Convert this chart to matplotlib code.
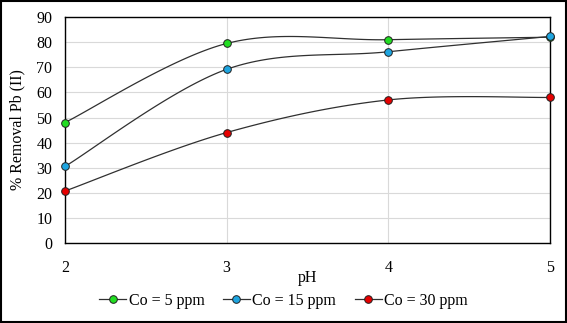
import numpy as np
import matplotlib
matplotlib.use("Agg")
import matplotlib.pyplot as plt

# data
ph = [2, 3, 4, 5]
co_5 = [48.0, 79.5, 81.0, 82.0]
co_15 = [30.5, 69.2, 76.2, 82.3]
co_30 = [20.7, 44.0, 57.0, 58.0]
labels = ["Co = 5 ppm", "Co = 15 ppm", "Co = 30 ppm"]
colors = ["#22dd22", "#1ea5e0", "#e60000"]


def excel_smooth(x, y, n=40):
    # bezier segments like Excel's "smoothed line"
    x = np.asarray(x, float)
    y = np.asarray(y, float)
    xs, ys = [], []
    for i in range(len(x) - 1):
        p0 = (x[max(i - 1, 0)], y[max(i - 1, 0)])
        p1 = (x[i], y[i])
        p2 = (x[i + 1], y[i + 1])
        p3 = (x[min(i + 2, len(x) - 1)], y[min(i + 2, len(x) - 1)])
        c1 = (p1[0] + (p2[0] - p0[0]) / 6, p1[1] + (p2[1] - p0[1]) / 6)
        c2 = (p2[0] - (p3[0] - p1[0]) / 6, p2[1] - (p3[1] - p1[1]) / 6)
        t = np.linspace(0, 1, n)
        b = [(1 - t) ** 3, 3 * (1 - t) ** 2 * t, 3 * (1 - t) * t ** 2, t ** 3]
        xs.append(b[0] * p1[0] + b[1] * c1[0] + b[2] * c2[0] + b[3] * p2[0])
        ys.append(b[0] * p1[1] + b[1] * c1[1] + b[2] * c2[1] + b[3] * p2[1])
    return np.concatenate(xs), np.concatenate(ys)


plt.rcParams["font.family"] = ["Liberation Serif", "DejaVu Serif"]
plt.rcParams["font.size"] = 11.5

fig = plt.figure(figsize=(5.67, 3.23), dpi=100)
ax = fig.add_axes([0.1146, 0.2477, 0.8554, 0.6993])

for y, c, lab in zip([co_5, co_15, co_30], colors, labels):
    sx, sy = excel_smooth(ph, y)
    ax.plot(sx, sy, color="#303030", lw=0.9, zorder=3)
    ax.plot(ph, y, "o", color=c, mec="#202020", mew=0.7, ms=5.5, zorder=4, clip_on=False)
    ax.plot([], [], "-o", color="#303030", mfc=c, mec="#202020", mew=0.7, ms=5.5, lw=0.9, label=lab)

ax.set_xlim(2, 5)
ax.set_ylim(0, 90)
ax.set_xticks(ph)
ax.set_yticks(range(0, 91, 10))
ax.grid(True, color="#d9d9d9", lw=0.8)
ax.set_axisbelow(True)
for s in ax.spines.values():
    s.set_color("black")
    s.set_linewidth(1.0)
ax.tick_params(length=0)
ax.tick_params(axis="y", pad=9)
ax.tick_params(axis="x", pad=12)
ax.set_xlabel("pH", labelpad=-4)
ax.set_ylabel("% Removal Pb (II)", labelpad=8)

fig.legend(loc="lower center", bbox_to_anchor=(0.5, 0.0), ncol=3, frameon=False,
           handlelength=1.7, handletextpad=0.15, columnspacing=1.15)

fig.patches.append(plt.Rectangle((0.002, 0.003), 0.996, 0.994, transform=fig.transFigure,
                                 fill=False, ec="black", lw=1.5))

fig.savefig("out.png", dpi=100)
